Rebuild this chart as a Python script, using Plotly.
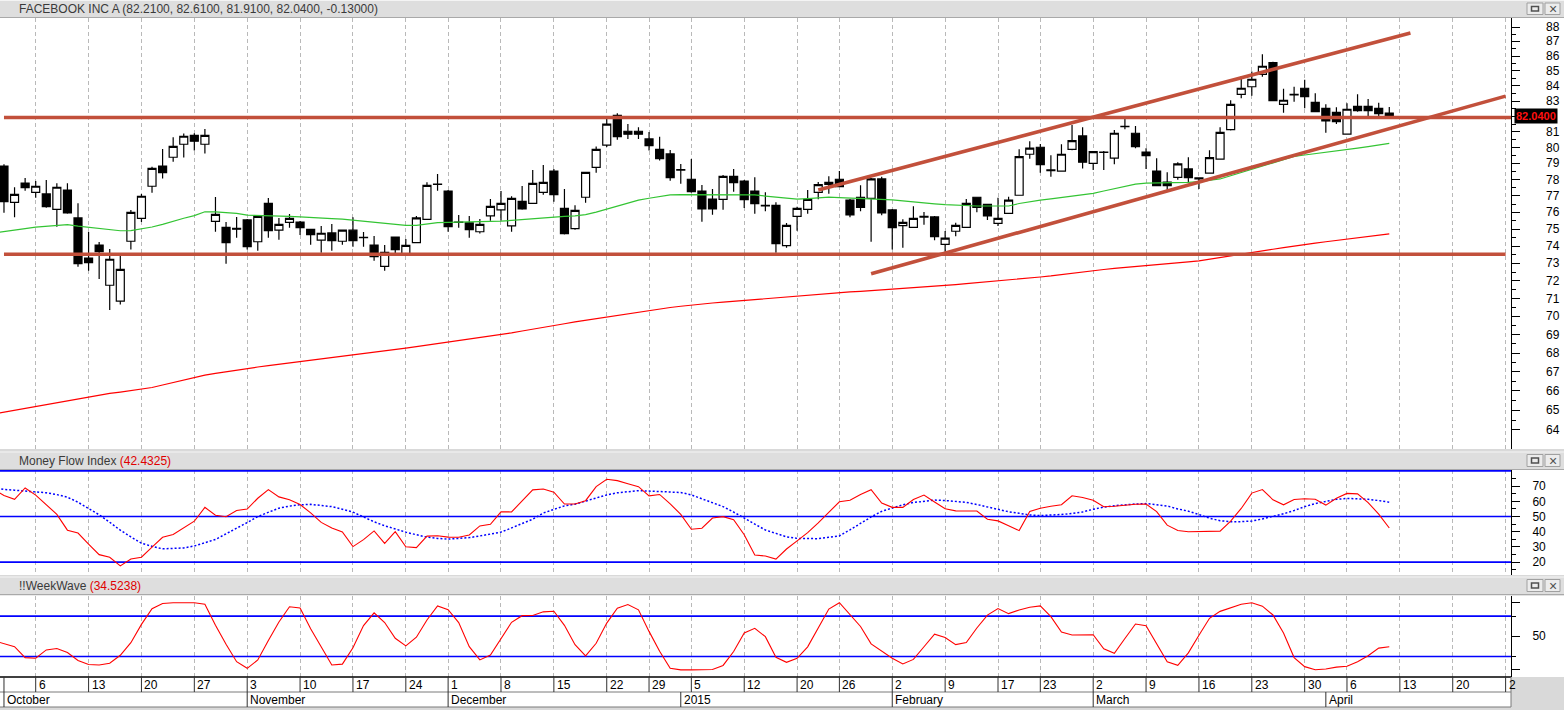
import math
import pandas as pd
import plotly.graph_objects as go

# ---------------- calendar (trading days) ----------------
holidays = ["2014-11-27", "2014-12-25", "2015-01-01", "2015-01-19", "2015-02-16", "2015-04-03"]
days = [d.strftime("%Y-%m-%d") for d in pd.bdate_range("2014-09-30", "2015-04-30")]
days = [d for d in days if d not in holidays]
pos = {d: k for k, d in enumerate(days)}

candle_dates = days[1:133]   # 2014-10-01 .. 2015-04-10
line_dates = days[0:133]     # 2014-09-30 .. 2015-04-10

# ---------------- price data ----------------
open_ = [78.84, 76.61, 77.79, 77.22, 77.12, 76.19, 77.36, 75.67, 73.31, 74.07,
         71.75, 70.85, 74.29, 75.65, 77.59, 78.84, 79.39, 80.21, 80.78, 80.21,
         75.47, 75.11, 75.05, 75.55, 74.26, 76.55, 74.94, 75.41, 75.43, 74.99,
         74.35, 74.78, 74.29, 74.94, 74.52, 74.07, 72.83, 74.54, 73.56, 74.21,
         75.59, 77.73, 77.30, 75.40, 75.38, 74.85, 75.80, 76.16, 75.20, 76.67,
         76.55, 77.22, 78.53, 76.25, 75.03, 76.92, 78.76, 80.15, 82.06, 81.04,
         81.04, 80.55, 79.89, 79.60, 78.58, 78.02, 77.30, 76.81, 76.79, 78.20,
         77.91, 77.30, 76.43, 76.43, 74.03, 75.77, 76.19, 77.22, 77.71, 78.02,
         76.75, 76.92, 76.85, 78.04, 76.15, 75.21, 75.11, 75.72, 75.73, 74.11,
         74.88, 75.11, 76.92, 76.49, 75.35, 75.95, 77.04, 79.58, 80.02, 78.56,
         78.52, 79.89, 80.74, 79.01, 79.70, 79.33, 81.35, 80.91, 79.72, 78.53,
         77.85, 78.14, 78.66, 78.10, 78.40, 79.27, 81.14, 83.44, 83.94, 84.77,
         85.56, 82.78, 83.40, 83.84, 82.91, 82.52, 82.26, 80.85, 82.65, 82.65,
         82.52, 82.21]
high_ = [78.95, 77.53, 78.10, 77.91, 77.98, 77.77, 77.77, 76.55, 74.84, 74.25,
         73.84, 73.47, 76.15, 77.12, 78.80, 79.91, 80.66, 80.89, 80.91, 81.19,
         76.93, 75.43, 75.73, 75.61, 75.80, 76.87, 75.67, 75.90, 75.49, 75.01,
         75.19, 75.31, 74.99, 75.71, 74.84, 74.60, 74.07, 74.57, 74.42, 75.79,
         77.83, 78.35, 77.36, 75.84, 75.79, 75.61, 76.81, 77.30, 76.98, 77.61,
         78.60, 78.91, 78.66, 77.42, 76.43, 78.47, 80.06, 81.83, 82.20, 81.51,
         81.29, 80.99, 80.68, 79.85, 78.97, 79.28, 77.67, 77.42, 78.29, 78.66,
         77.98, 78.14, 77.22, 76.61, 75.37, 76.35, 77.36, 77.85, 78.20, 78.53,
         76.81, 77.65, 78.10, 78.18, 76.21, 75.59, 76.38, 76.02, 75.79, 74.89,
         75.39, 76.81, 76.93, 76.51, 76.89, 76.95, 79.89, 80.40, 80.23, 79.52,
         80.21, 81.44, 81.29, 79.78, 79.78, 81.12, 82.02, 81.37, 79.96, 79.33,
         78.45, 79.08, 79.39, 78.15, 79.83, 81.29, 83.05, 84.64, 84.95, 86.12,
         85.62, 83.81, 83.94, 84.41, 83.51, 82.78, 82.59, 82.85, 83.44, 83.13,
         82.89, 82.61]
low_ = [75.98, 75.71, 77.32, 76.89, 76.29, 75.15, 75.92, 72.81, 72.58, 72.11,
        70.36, 70.66, 73.80, 75.43, 77.20, 78.06, 79.11, 79.37, 79.81, 79.62,
        74.85, 72.98, 74.50, 73.80, 73.74, 74.50, 74.38, 75.09, 74.66, 74.09,
        73.62, 73.74, 74.09, 73.97, 73.97, 73.15, 72.58, 73.55, 73.56, 74.21,
        75.59, 77.32, 74.85, 75.09, 74.50, 74.74, 75.51, 75.51, 74.85, 76.16,
        76.55, 77.07, 76.65, 74.68, 74.97, 76.59, 78.43, 80.04, 80.50, 80.55,
        80.55, 79.81, 79.18, 77.93, 77.75, 77.20, 75.45, 75.86, 76.16, 77.26,
        76.27, 75.92, 76.07, 73.62, 73.91, 74.91, 75.92, 76.79, 77.13, 77.54,
        75.71, 76.07, 74.26, 75.83, 73.80, 73.91, 75.11, 75.27, 74.35, 73.68,
        74.58, 75.11, 76.01, 75.55, 75.19, 75.95, 77.04, 79.30, 78.43, 78.18,
        78.52, 79.83, 78.68, 78.60, 78.60, 78.95, 81.17, 79.96, 78.66, 77.60,
        77.36, 77.99, 77.77, 77.42, 78.40, 79.27, 81.08, 83.18, 83.35, 84.61,
        83.00, 82.24, 82.95, 82.52, 82.28, 80.95, 81.51, 80.85, 82.30, 81.97,
        81.97, 81.91]
close_ = [76.65, 77.10, 77.50, 77.59, 76.35, 77.53, 75.98, 72.98, 73.04, 73.68,
          73.24, 72.66, 76.00, 76.98, 78.70, 78.43, 80.08, 80.72, 80.40, 80.78,
          75.89, 74.21, 75.00, 73.97, 75.77, 74.91, 75.29, 75.65, 75.09, 74.68,
          74.76, 74.32, 74.94, 74.32, 74.50, 73.39, 73.64, 73.80, 74.05, 75.67,
          77.65, 77.70, 75.15, 75.42, 74.97, 75.29, 76.37, 76.55, 76.85, 76.22,
          77.77, 77.83, 77.07, 74.74, 76.13, 78.45, 79.89, 81.49, 80.69, 80.85,
          80.85, 80.12, 79.30, 78.12, 78.62, 77.26, 76.22, 76.22, 78.20, 77.81,
          76.77, 76.53, 76.40, 74.15, 75.23, 76.25, 76.79, 77.69, 77.83, 77.56,
          75.86, 76.31, 78.04, 75.98, 75.09, 75.41, 75.65, 75.76, 74.56, 74.47,
          75.23, 76.55, 76.31, 75.80, 75.65, 76.75, 79.43, 79.96, 78.93, 78.60,
          79.58, 80.44, 79.08, 79.74, 79.72, 80.91, 81.33, 80.06, 79.49, 77.62,
          77.62, 78.97, 78.12, 78.05, 79.37, 80.97, 82.78, 83.84, 84.44, 85.31,
          83.02, 83.05, 83.44, 83.28, 82.30, 81.70, 81.65, 82.46, 82.37, 82.37,
          82.17, 82.04]

# moving averages (Sep 30 .. Apr 10)
ma_short = [74.78,
            74.85, 74.94, 75.03, 75.12, 75.18, 75.25, 75.27, 75.18, 75.11, 75.06,
            74.97, 74.91, 74.92, 75.01, 75.13, 75.29, 75.48, 75.65, 75.81, 76.04,
            76.04, 76.00, 75.95, 75.84, 75.83, 75.82, 75.78, 75.76, 75.74, 75.69,
            75.64, 75.63, 75.60, 75.54, 75.46, 75.39, 75.33, 75.28, 75.23, 75.23,
            75.33, 75.39, 75.41, 75.42, 75.42, 75.43, 75.45, 75.48, 75.52, 75.57,
            75.66, 75.71, 75.75, 75.77, 75.79, 75.87, 76.02, 76.21, 76.39, 76.58,
            76.74, 76.86, 76.96, 77.06, 77.08, 77.08, 77.07, 77.09, 77.09, 77.09,
            77.07, 77.06, 76.99, 76.92, 76.85, 76.80, 76.84, 76.90, 76.93, 76.90,
            76.88, 76.86, 76.84, 76.82, 76.76, 76.70, 76.63, 76.57, 76.52, 76.47,
            76.43, 76.39, 76.39, 76.39, 76.39, 76.39, 76.54, 76.65, 76.74, 76.82,
            76.90, 76.98, 77.06, 77.16, 77.30, 77.44, 77.58, 77.72, 77.78, 77.79,
            77.80, 77.82, 77.83, 77.88, 77.96, 78.04, 78.24, 78.44, 78.64, 78.86,
            79.07, 79.28, 79.44, 79.53, 79.61, 79.69, 79.76, 79.86, 79.96, 80.06,
            80.17, 80.27]
ma_long = [64.80,
           64.90, 64.99, 65.09, 65.19, 65.29, 65.39, 65.49, 65.59, 65.69, 65.79,
           65.87, 65.94, 66.01, 66.09, 66.18, 66.31, 66.44, 66.58, 66.71, 66.83,
           66.92, 67.01, 67.09, 67.18, 67.26, 67.33, 67.40, 67.46, 67.53, 67.60,
           67.67, 67.74, 67.81, 67.88, 67.96, 68.03, 68.11, 68.19, 68.27, 68.35,
           68.43, 68.51, 68.59, 68.67, 68.75, 68.83, 68.91, 69.00, 69.10, 69.20,
           69.31, 69.41, 69.52, 69.60, 69.70, 69.79, 69.89, 69.98, 70.07, 70.17,
           70.26, 70.36, 70.43, 70.50, 70.57, 70.64, 70.71, 70.75, 70.80, 70.85,
           70.89, 70.94, 70.99, 71.04, 71.08, 71.13, 71.18, 71.23, 71.27, 71.32,
           71.37, 71.40, 71.44, 71.47, 71.51, 71.55, 71.60, 71.64, 71.69, 71.74,
           71.79, 71.84, 71.89, 71.94, 71.98, 72.05, 72.10, 72.16, 72.22, 72.28,
           72.36, 72.43, 72.50, 72.58, 72.65, 72.71, 72.77, 72.83, 72.89, 72.94,
           72.99, 73.03, 73.09, 73.15, 73.24, 73.34, 73.44, 73.53, 73.62, 73.72,
           73.82, 73.92, 74.02, 74.11, 74.18, 74.26, 74.33, 74.41, 74.49, 74.57,
           74.65, 74.72]

# Money Flow Index and its signal (Sep 30 .. Apr 10)
mfi = [67.8,
       63.8, 61.3, 68.8, 64.1, 57.9, 51.4, 41.0, 39.1, 31.8, 24.9,
       23.2, 17.5, 22.0, 23.2, 29.8, 36.3, 38.1, 42.4, 46.9, 56.0,
       50.8, 49.8, 54.0, 54.9, 62.0, 67.7, 62.9, 61.0, 57.9, 52.4,
       46.1, 42.4, 39.8, 30.2, 34.8, 40.5, 32.3, 40.0, 30.1, 29.5,
       37.1, 37.3, 36.4, 36.3, 37.8, 43.8, 44.9, 53.1, 53.0, 60.3,
       67.5, 68.1, 66.0, 58.2, 58.2, 60.4, 69.7, 74.5, 73.6, 71.6,
       69.6, 63.6, 64.5, 58.3, 51.4, 41.6, 42.3, 49.0, 49.9, 47.9,
       38.0, 24.7, 24.0, 22.0, 28.6, 34.0, 39.4, 45.8, 52.5, 59.7,
       60.7, 64.5, 67.6, 58.8, 56.0, 56.0, 61.2, 64.1, 59.5, 55.1,
       53.7, 53.6, 53.6, 48.2, 47.1, 43.9, 40.7, 53.3, 55.4, 56.7,
       57.7, 63.6, 62.5, 60.7, 56.4, 56.7, 57.3, 58.1, 58.2, 53.2,
       44.3, 40.8, 40.0, 40.0, 40.0, 40.4, 46.9, 55.3, 65.4, 67.7,
       61.0, 57.7, 61.2, 61.7, 61.3, 57.5, 62.0, 65.2, 64.9, 59.1,
       51.6, 42.4325]
mfi_signal = [69.0,
              67.8, 67.3, 66.9, 66.3, 65.6, 64.4, 62.7, 59.4, 55.4, 51.1,
              46.2, 41.0, 36.6, 32.4, 30.4, 28.7, 29.0, 29.3, 30.6, 32.7,
              34.9, 38.6, 42.2, 46.0, 50.0, 52.9, 55.5, 56.8, 57.7, 58.0,
              57.2, 56.5, 54.8, 52.9, 49.7, 46.5, 43.9, 41.7, 39.7, 38.0,
              36.4, 35.6, 35.1, 35.6, 36.1, 37.2, 38.4, 39.7, 42.5, 45.4,
              48.2, 52.3, 54.9, 57.0, 58.1, 60.3, 62.3, 64.2, 65.6, 66.4,
              67.0, 66.7, 66.4, 66.1, 65.8, 64.2, 61.7, 59.2, 56.5, 52.9,
              49.0, 45.1, 41.1, 38.9, 36.6, 35.6, 35.3, 35.4, 36.4, 37.2,
              41.2, 45.6, 49.7, 53.4, 55.6, 57.7, 59.2, 60.1, 60.8, 60.5,
              60.0, 59.3, 57.9, 56.2, 54.9, 53.1, 52.1, 51.0, 50.6, 50.8,
              51.3, 52.0, 53.0, 54.7, 56.2, 57.1, 57.8, 58.2, 58.5, 57.6,
              56.9, 55.0, 53.5, 51.3, 48.9, 47.2, 46.6, 46.6, 47.0, 48.4,
              49.9, 51.8, 53.9, 56.5, 58.5, 59.8, 61.3, 61.9, 61.8, 61.3,
              60.5, 59.4]
mfi_levels = [80, 50, 20]

# !!WeekWave (Sep 30 .. Apr 10)
weekwave = [43.5,
            38.6, 34.5, 18.2, 17.3, 29.7, 31.8, 25.9, 14.0, 8.1, 7.3,
            9.8, 21.8, 40.5, 67.7, 91.0, 98.7, 100, 100, 100, 97.8,
            66.5, 38.1, 12.2, 2.3, 14.7, 43.6, 71.3, 94.0, 92.0, 61.3,
            34.2, 7.3, 8.5, 32.9, 66.0, 84.9, 70.5, 47.0, 35.7, 48.6,
            74.2, 95.1, 89.6, 70.3, 34.6, 14.8, 22.0, 47.3, 70.8, 80.7,
            81.0, 86.4, 87.2, 66.3, 37.5, 20.9, 39.6, 69.6, 91.9, 97.3,
            89.3, 57.3, 27.7, 2.3, 0, 0, 0, 0.6, 6.6, 27.4,
            54.9, 61.9, 49.4, 18.8, 11.3, 17.3, 34.3, 63.3, 90.5, 100,
            82.4, 64.6, 38.7, 28.5, 17.3, 8.8, 15.6, 34.4, 53.2, 48.3,
            37.6, 40.7, 62.3, 81.5, 91.3, 83.7, 89.1, 93.2, 95.2, 79.2,
            56.3, 51.9, 51.9, 52.3, 31.4, 24.7, 46.7, 68.3, 65.8, 39.7,
            12.2, 6.7, 25.3, 51.4, 76.8, 87.1, 93.0, 97.8, 100, 94.8,
            81.7, 54.8, 18.3, 4.8, 0.3, 1.3, 4.1, 5.4, 12.0, 21.1,
            32.4, 34.5238]
ww_levels = [80, 20]

# hand-drawn trend lines: (start date, start price, end date, end price)
trend_lines = [
    ("2014-10-01", 81.92, "2015-04-28", 81.92),
    ("2014-10-01", 73.53, "2015-04-27", 73.53),
    ("2015-01-22", 77.36, "2015-04-14", 87.59),
    ("2015-01-29", 72.40, "2015-04-27", 83.32),
]

# axis ticks / labels
price_ticks = list(range(64, 89))
mfi_ticks = [20, 30, 40, 50, 60, 70]
tick_dates = ["2014-10-06", "2014-10-13", "2014-10-20", "2014-10-27", "2014-11-03", "2014-11-10",
              "2014-11-17", "2014-11-24", "2014-12-01", "2014-12-08", "2014-12-15", "2014-12-22",
              "2014-12-29", "2015-01-05", "2015-01-12", "2015-01-20", "2015-01-26", "2015-02-02",
              "2015-02-09", "2015-02-17", "2015-02-23", "2015-03-02", "2015-03-09", "2015-03-16",
              "2015-03-23", "2015-03-30", "2015-04-06", "2015-04-13", "2015-04-20", "2015-04-27"]
day_labels = ["6", "13", "20", "27", "3", "10", "17", "24", "1", "8", "15", "22", "29", "5", "12",
              "20", "26", "2", "9", "17", "23", "2", "9", "16", "23", "30", "6", "13", "20", "2"]
month_dates = ["2014-10-01", "2014-11-03", "2014-12-01", "2015-01-02", "2015-02-02", "2015-03-02", "2015-04-01"]
month_labels = ["October", "November", "December", "2015", "February", "March", "April"]

title_name = "FACEBOOK INC A"
mfi_name = "Money Flow Index"
ww_name = "!!WeekWave"

# ---------------- geometry ----------------
W, H = 1564, 710
PL, PR, PT, PB = 0, 1511, 18, 677       # plot area in pixels
PW, PH = PR - PL, PB - PT
FONT = "Liberation Sans, Arial, sans-serif"


def fx(xp):
    return (xp - PL) / PW


def fy(yp):
    return (PB - yp) / PH


xc = [pos[d] for d in candle_dates]
xl = [pos[d] for d in line_dates]
x0i = pos["2014-10-01"]
x_range = [x0i - 0.376, x0i + 142.51]
tick_x = [pos[d] for d in tick_dates]

fig = go.Figure()

# ---- main price panel ----
fig.add_trace(go.Candlestick(
    x=xc, open=open_, high=high_, low=low_, close=close_,
    increasing=dict(line=dict(color="black", width=1.2), fillcolor="white"),
    decreasing=dict(line=dict(color="black", width=1.2), fillcolor="black"),
    whiskerwidth=0, xaxis="x", yaxis="y", showlegend=False, hoverinfo="skip"))
fig.add_trace(go.Scatter(x=xl, y=ma_short, mode="lines", line=dict(color="#33c433", width=1.2),
                         xaxis="x", yaxis="y", showlegend=False, hoverinfo="skip"))
fig.add_trace(go.Scatter(x=xl, y=ma_long, mode="lines", line=dict(color="#ff0000", width=1.2),
                         xaxis="x", yaxis="y", showlegend=False, hoverinfo="skip"))
for d0, p0, d1, p1 in trend_lines:
    fig.add_trace(go.Scatter(x=[pos[d0], pos[d1]], y=[p0, p1], mode="lines",
                             line=dict(color="#c2503b", width=3.6),
                             xaxis="x", yaxis="y", showlegend=False, hoverinfo="skip"))

# ---- MFI panel ----
for lv in mfi_levels:
    fig.add_trace(go.Scatter(x=x_range, y=[lv, lv], mode="lines", line=dict(color="#0000ff", width=1.6),
                             xaxis="x2", yaxis="y2", showlegend=False, hoverinfo="skip"))
fig.add_trace(go.Scatter(x=xl, y=mfi_signal, mode="lines", line=dict(color="#0000ff", width=1.5, dash="2px,2px"),
                         xaxis="x2", yaxis="y2", showlegend=False, hoverinfo="skip"))
fig.add_trace(go.Scatter(x=xl, y=mfi, mode="lines", line=dict(color="#ff0000", width=1.1),
                         xaxis="x2", yaxis="y2", showlegend=False, hoverinfo="skip"))

# ---- WeekWave panel ----
for lv in ww_levels:
    fig.add_trace(go.Scatter(x=x_range, y=[lv, lv], mode="lines", line=dict(color="#0000ff", width=1.6),
                             xaxis="x3", yaxis="y3", showlegend=False, hoverinfo="skip"))
fig.add_trace(go.Scatter(x=xl, y=weekwave, mode="lines", line=dict(color="#ff0000", width=1.1),
                         xaxis="x3", yaxis="y3", showlegend=False, hoverinfo="skip"))

# ---------------- axes ----------------
xcommon = dict(range=x_range, tickmode="array", tickvals=tick_x, showticklabels=False, ticks="",
               showgrid=True, gridcolor="#b9b9b9", gridwidth=1, griddash="4px,3px",
               zeroline=False, showline=False, fixedrange=True)
main_dom = [fy(449), 1.0]
mfi_dom = [fy(575), fy(470)]
ww_dom = [0.0, fy(595.7)]

price_lo = 88 * math.exp(-(449 - 27) / 1265.0)
price_hi = 88 * math.exp((27 - 18) / 1265.0)

yfont = dict(family=FONT, size=12, color="black")
fig.update_layout(
    width=W, height=H,
    margin=dict(l=PL, r=W - PR, t=PT, b=H - PB, pad=0),
    paper_bgcolor="#d9d9d9", plot_bgcolor="white",
    showlegend=False, boxgap=0.22, boxgroupgap=0.03,
    xaxis=dict(xcommon, anchor="y", domain=[0, 1], rangeslider=dict(visible=False)),
    xaxis2=dict(xcommon, anchor="y2", domain=[0, 1], matches="x"),
    xaxis3=dict(xcommon, anchor="y3", domain=[0, 1], matches="x"),
    yaxis=dict(domain=main_dom, type="log", range=[math.log10(price_lo), math.log10(price_hi)],
               side="right", anchor="x", tickmode="array", tickvals=price_ticks,
               showticklabels=False, ticks="outside", ticklen=8, tickwidth=1,
               tickcolor="black", showline=True, linecolor="black", linewidth=1,
               showgrid=False, zeroline=False,
               minor=dict(tickmode="array", tickvals=[t + 0.5 for t in price_ticks[:-1]],
                          ticks="outside", ticklen=4, tickcolor="black", showgrid=False),
               fixedrange=True),
    yaxis2=dict(domain=mfi_dom, range=[11.51, 80.59], side="right", anchor="x2",
                tickmode="array", tickvals=mfi_ticks, ticks="outside", ticklen=8, tickwidth=1,
                tickcolor="black", showline=True, linecolor="black", linewidth=1,
                showgrid=False, zeroline=False, tickfont=yfont, ticklabelstandoff=10,
                minor=dict(tickmode="array", tickvals=[15, 25, 35, 45, 55, 65, 75],
                           ticks="outside", ticklen=4, tickcolor="black", showgrid=False),
                fixedrange=True),
    yaxis3=dict(domain=ww_dom, range=[-10.6, 110.4], side="right", anchor="x3",
                tickmode="array", tickvals=[0, 50, 100], ticktext=["", "50", ""], ticks="outside",
                ticklen=8, tickwidth=1, tickcolor="black", showline=True, linecolor="black",
                linewidth=1, showgrid=False, zeroline=False, tickfont=yfont, ticklabelstandoff=10,
                minor=dict(tickmode="array", tickvals=[20, 80], ticks="outside", ticklen=4,
                           tickcolor="black", showgrid=False),
                fixedrange=True),
)

# ---------------- frame: headers, backgrounds, bottom axis ----------------
shapes = []
annotations = []


def rect(x0, y0, x1, y1, fill, line=None, lw=0, layer="below"):
    shapes.append(dict(type="rect", xref="paper", yref="paper", x0=fx(x0), x1=fx(x1),
                       y0=fy(y1), y1=fy(y0), fillcolor=fill, layer=layer,
                       line=dict(color=line if line else fill, width=lw)))


def seg(x0, y0, x1, y1, color, w=1, layer="above"):
    shapes.append(dict(type="line", xref="paper", yref="paper", x0=fx(x0), x1=fx(x1),
                       y0=fy(y0), y1=fy(y1), layer=layer, line=dict(color=color, width=w)))


# white panel backgrounds including the right axis strip
for (a, b) in [(18, 449), (470, 575), (595.7, 677)]:
    rect(0, a, W, b, "white")

# panel headers
for (a, b) in [(0, 17.5), (451.5, 469.5), (576.5, 594.5)]:
    rect(0, a, W, b, "#dedede")
    seg(0, a + 0.5, W, a + 0.5, "#f4f4f4", 1)
    seg(0, b, W, b, "#a9a9a9", 1)
    # window buttons
    rect(1527, a + 3, 1543, b - 3, "#ececec", "#a0a0a0", 1, layer="above")
    rect(1531.5, a + 6.5, 1538.5, b - 6.5, "#ececec", "#505050", 1.5, layer="above")
    rect(1545, a + 3, 1560, b - 3, "#ececec", "#a0a0a0", 1, layer="above")
    annotations.append(dict(xref="paper", yref="paper", x=fx(1552.5), y=fy((a + b) / 2),
                            text="×", showarrow=False, font=dict(family=FONT, size=14, color="#505050"),
                            xanchor="center", yanchor="middle"))

# bottom date axis box
rect(0, 677, PR, 707, "white")
seg(0, 677, PR, 677, "black", 1.5)
seg(0, 692, PR, 692, "#7a7a7a", 1)
seg(0, 707, PR, 707, "#7a7a7a", 1)
seg(PR, 677, PR, 707, "#7a7a7a", 1)
for xv in tick_x:
    shapes.append(dict(type="line", xref="x3", yref="paper", x0=xv, x1=xv, y0=fy(677), y1=fy(692),
                       line=dict(color="#303030", width=1), layer="above"))
for d in month_dates:
    xv = pos[d]
    shapes.append(dict(type="line", xref="x3", yref="paper", x0=xv, x1=xv,
                       y0=fy(692 if d != month_dates[0] else 677), y1=fy(707),
                       line=dict(color="#303030", width=1), layer="above"))

for xv, lab in zip(tick_x, day_labels):
    annotations.append(dict(xref="x3", yref="paper", x=xv, y=fy(685), text=lab, showarrow=False,
                            xanchor="left", yanchor="middle", xshift=1,
                            font=dict(family=FONT, size=12, color="black")))
for d, lab in zip(month_dates, month_labels):
    annotations.append(dict(xref="x3", yref="paper", x=pos[d], y=fy(700), text=lab, showarrow=False,
                            xanchor="left", yanchor="middle", xshift=1,
                            font=dict(family=FONT, size=12, color="black")))

# price axis labels (placed right of the tick marks, as in the reference)
for t in price_ticks:
    if abs(t - close_[-1]) < 0.5:
        continue  # covered by the last-price marker
    annotations.append(dict(xref="paper", yref="y", x=fx(1544), y=math.log10(t), text=str(t),
                            showarrow=False, xanchor="left", yanchor="middle",
                            font=dict(family=FONT, size=12, color="black")))

# panel titles
chg = close_[-1] - close_[-2]
main_title = "%s (%.4f, %.4f, %.4f, %.4f, %.5f)" % (title_name, open_[-1], high_[-1], low_[-1], close_[-1], chg)
for text, yp in [(main_title, 8.8),
                 ("%s <span style='color:#e00000'>(%.4f)</span>" % (mfi_name, mfi[-1]), 460.5),
                 ("%s <span style='color:#e00000'>(%.4f)</span>" % (ww_name, weekwave[-1]), 585.5)]:
    annotations.append(dict(xref="paper", yref="paper", x=fx(17), y=fy(yp), text=text, showarrow=False,
                            xanchor="left", yanchor="middle",
                            font=dict(family=FONT, size=12, color="#3a3a3a")))

# last price marker on the price axis
annotations.append(dict(xref="paper", yref="y", x=fx(1536), y=math.log10(close_[-1]),
                        text="<b>%.4f</b>" % close_[-1], showarrow=False, xanchor="center",
                        yanchor="middle", bgcolor="black", borderpad=1,
                        font=dict(family=FONT, size=11, color="#ff1010")))

fig.update_layout(shapes=shapes, annotations=annotations)
fig.write_html("out.html")
